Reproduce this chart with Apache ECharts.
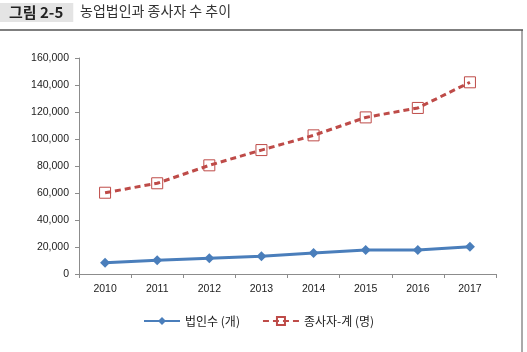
<!DOCTYPE html>
<html><head><meta charset="utf-8">
<script src="https://cdn.jsdelivr.net/npm/echarts@6/dist/echarts.min.js"></script>
<style>html,body{margin:0;padding:0;background:#fff}#c{width:527px;height:352px}</style>
</head><body><div id="c"></div>
<script>
const years = ['2010','2011','2012','2013','2014','2015','2016','2017'];
const corpCount = [8400, 10100, 11600, 13100, 15500, 17800, 17800, 20200];
const workers = [60200, 67200, 80500, 91800, 102700, 116000, 123000, 142000];
const yTicks = [0, 20000, 40000, 60000, 80000, 100000, 120000, 140000, 160000];
const seriesNames = ['법인수 (개)', '종사자-계 (명)'];

const chart = echarts.init(document.getElementById('c'));
chart.setOption({
  animation: false,
  textStyle: {fontFamily: '"Noto Sans CJK KR", "Liberation Sans", sans-serif'},
  title: [
    {text: '그림 2-5', left: 0, top: 3, padding: [2, 10, 2, 9], backgroundColor: '#e4e4e4',
     textStyle: {fontSize: 15, fontWeight: 'bold', color: '#222', fontFamily: '"Noto Sans CJK KR", sans-serif'}},
    {text: '농업법인과 종사자 수 추이', left: 80, top: 4,
     textStyle: {fontSize: 14, fontWeight: 'normal', color: '#333', fontFamily: '"Noto Sans CJK KR", sans-serif'}, padding: 0}
  ],
  graphic: [
    {type: 'line', shape: {x1: 0, y1: 30, x2: 523, y2: 30}, style: {stroke: '#555', lineWidth: 1.5}},
    {type: 'line', shape: {x1: 522, y1: 30, x2: 522, y2: 352}, style: {stroke: '#555', lineWidth: 1}}
  ],
  grid: {left: 79, right: 31, top: 58, bottom: 78},
  legend: {
    bottom: 20, left: 138, itemWidth: 36, itemHeight: 10, itemGap: 22,
    textStyle: {fontSize: 12, color: '#222', fontFamily: '"Noto Sans CJK KR", sans-serif'},
    data: seriesNames
  },
  xAxis: {
    type: 'category', data: years, boundaryGap: true,
    axisLine: {lineStyle: {color: '#8c8c8c'}},
    axisTick: {show: true, length: 4, lineStyle: {color: '#8c8c8c'}},
    axisLabel: {fontSize: 10.5, color: '#222', margin: 10, fontFamily: '"Liberation Sans", sans-serif'}
  },
  yAxis: {
    type: 'value', min: 0, max: 160000, interval: 20000,
    axisLine: {show: true, lineStyle: {color: '#8c8c8c'}},
    axisTick: {show: true, length: 4, lineStyle: {color: '#8c8c8c'}},
    splitLine: {show: false},
    axisLabel: {fontSize: 10.5, color: '#222', margin: 10, fontFamily: '"Liberation Sans", sans-serif',
      formatter: v => yTicks.includes(v) ? v.toLocaleString('en-US') : ''}
  },
  series: [
    {name: seriesNames[0], type: 'line', data: corpCount, symbol: 'diamond', symbolSize: 10,
     lineStyle: {color: '#4a7ebb', width: 3}, itemStyle: {color: '#4a7ebb'}},
    {name: seriesNames[1], type: 'line', data: workers, symbol: 'rect', symbolSize: 11,
     lineStyle: {color: '#be4b48', width: 3, type: [6, 4]},
     itemStyle: {color: 'rgba(255,255,255,0)', borderColor: '#be4b48', borderWidth: 1}}
  ]
});
</script></body></html>
